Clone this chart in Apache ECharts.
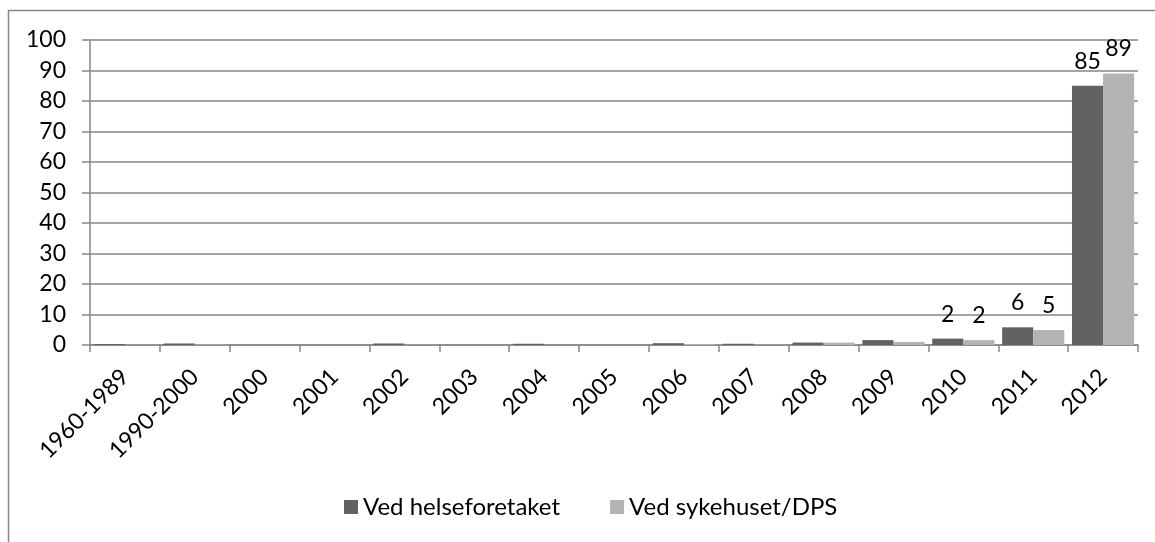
<!DOCTYPE html>
<html>
<head>
<meta charset="utf-8">
<script src="https://cdn.jsdelivr.net/npm/echarts@6/dist/echarts.min.js"></script>
<style>
html,body{margin:0;padding:0;background:#fff;}
#chart{width:1155px;height:542px;}
</style>
</head>
<body>
<div id="chart"></div>
<script>
var categories = ['1960-1989','1990-2000','2000','2001','2002','2003','2004','2005','2006','2007','2008','2009','2010','2011','2012'];
var seriesNames = ['Ved helseforetaket','Ved sykehuset/DPS'];
var helseforetaket = [0.3, 0.5, 0, 0, 0.5, 0, 0.4, 0, 0.6, 0.4, 0.8, 1.6, 2.1, 5.8, 85];
var sykehuset = [0.1, 0.2, 0, 0, 0.1, 0, 0, 0, 0.3, 0.1, 0.8, 1.0, 1.6, 4.9, 89];
var labeledCategories = ['2010','2011','2012'];
var yTicks = [0,10,20,30,40,50,60,70,80,90,100];

var FONT = 'Lato';
var FS = 23;
function buildData(values){
  return values.map(function(v,i){
    return {value:v, label:{show: labeledCategories.indexOf(categories[i]) >= 0}};
  });
}
var chart = echarts.init(document.getElementById('chart'), null, {renderer:'canvas'});
chart.setOption({
  animation:false,
  backgroundColor:'#fff',
  textStyle:{fontFamily:FONT},
  graphic:[{type:'rect',shape:{x:8.5,y:10.5,width:1300,height:700},style:{fill:'none',stroke:'#868686',lineWidth:1.5},silent:true}],
  grid:{left:90,right:17,top:40,bottom:197,containLabel:false},
  legend:{
    data:seriesNames, top:495, left:344, padding:0, itemWidth:14, itemHeight:14, itemGap:50,
    icon:'rect', textStyle:{fontSize:24,color:'#000',fontFamily:FONT}
  },
  xAxis:{
    type:'category', data:categories, boundaryGap:true,
    axisLine:{lineStyle:{color:'#868686',width:1.5}},
    axisTick:{show:true, length:7, alignWithLabel:false, lineStyle:{color:'#868686',width:1.5}},
    axisLabel:{rotate:45, margin:28, interval:0, fontSize:FS, color:'#000', fontFamily:FONT}
  },
  yAxis:{
    type:'value', min:yTicks[0], max:yTicks[yTicks.length-1], interval:10,
    axisLine:{show:true,lineStyle:{color:'#868686',width:1.5}},
    axisTick:{show:true,length:8,lineStyle:{color:'#868686',width:1.5}},
    splitLine:{lineStyle:{color:'#868686',width:1.5}},
    axisLabel:{margin:24, fontSize:FS, color:'#000', fontFamily:FONT}
  },
  series:[
    {name:seriesNames[0], type:'bar', data:buildData(helseforetaket), barGap:'0%', barCategoryGap:'11%',
     itemStyle:{color:'#626262'},
     label:{position:'top', distance:13, fontSize:FS, color:'#000', fontFamily:FONT, formatter:function(p){return Math.round(p.value);}}},
    {name:seriesNames[1], type:'bar', data:buildData(sykehuset), barGap:'0%', barCategoryGap:'11%',
     itemStyle:{color:'#b3b3b3'},
     label:{position:'top', distance:13, fontSize:FS, color:'#000', fontFamily:FONT, formatter:function(p){return Math.round(p.value);}}}
  ]
});
</script>
</body>
</html>
